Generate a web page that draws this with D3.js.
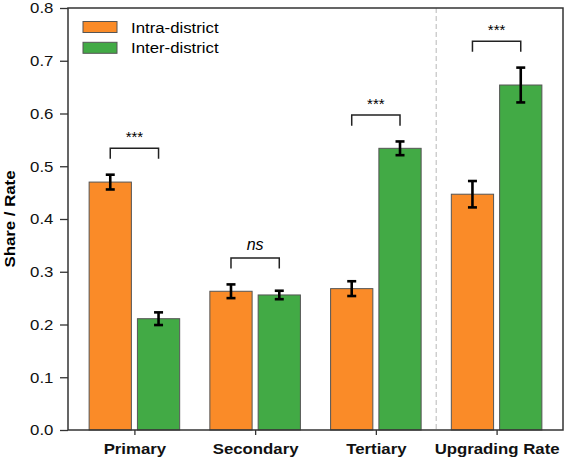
<!DOCTYPE html>
<html>
<head>
<meta charset="utf-8">
<script src="https://cdn.jsdelivr.net/npm/d3@7"></script>
<style>
  body { margin: 0; background: #fff; }
  text { font-family: "Liberation Sans", Arial, sans-serif; }
</style>
</head>
<body>
<div id="chart"></div>
<script>
// Chart data
const categories = ["Primary", "Secondary", "Tertiary", "Upgrading Rate"];
const seriesNames = ["Intra-district", "Inter-district"];
const intraValues = [0.470, 0.263, 0.268, 0.447];
const intraErrors = [0.014, 0.013, 0.014, 0.025];
const interValues = [0.211, 0.256, 0.534, 0.654];
const interErrors = [0.012, 0.008, 0.013, 0.033];
const significance = ["***", "ns", "***", "***"];
const yTicks = [0.0, 0.1, 0.2, 0.3, 0.4, 0.5, 0.6, 0.7, 0.8];

const colors = ["#fa8b28", "#42aa45"];

const W = 567, H = 460;
const plot = { left: 68, right: 563, top: 8, bottom: 430 };
const stretch = 1.12; // text in the original is slightly wide

const svg = d3.select("#chart").append("svg")
    .attr("width", W)
    .attr("height", H);

const x = d3.scaleLinear().domain([-0.55, 3.55]).range([plot.left, plot.right]);
const y = d3.scaleLinear().domain([0, 0.8]).range([plot.bottom, plot.top]);

const barW = x(0.35) - x(0);
const offset = 0.2;

// dashed separator before the rate group
svg.append("line")
    .attr("x1", x(2.5)).attr("x2", x(2.5))
    .attr("y1", plot.top).attr("y2", plot.bottom)
    .attr("stroke", "#c8c8c8")
    .attr("stroke-width", 1.3)
    .attr("stroke-dasharray", "5,3");

// bars + error bars
const series = [
    { name: seriesNames[0], values: intraValues, errors: intraErrors, color: colors[0], dx: -offset },
    { name: seriesNames[1], values: interValues, errors: interErrors, color: colors[1], dx: offset }
];

series.forEach(s => {
    const g = svg.append("g");
    g.selectAll("rect")
        .data(s.values)
        .enter()
        .append("rect")
        .attr("x", (d, i) => x(i + s.dx) - barW / 2)
        .attr("y", d => y(d))
        .attr("width", barW)
        .attr("height", d => y(0) - y(d))
        .attr("fill", s.color)
        .attr("stroke", "#555")
        .attr("stroke-width", 1);

    const eb = g.selectAll(".err")
        .data(s.values)
        .enter()
        .append("g");
    eb.append("line")
        .attr("x1", (d, i) => x(i + s.dx)).attr("x2", (d, i) => x(i + s.dx))
        .attr("y1", (d, i) => y(d - s.errors[i]))
        .attr("y2", (d, i) => y(d + s.errors[i]))
        .attr("stroke", "#000").attr("stroke-width", 2.6);
    [-1, 1].forEach(sign => {
        eb.append("line")
            .attr("x1", (d, i) => x(i + s.dx) - 4.5).attr("x2", (d, i) => x(i + s.dx) + 4.5)
            .attr("y1", (d, i) => y(d + sign * s.errors[i]))
            .attr("y2", (d, i) => y(d + sign * s.errors[i]))
            .attr("stroke", "#000").attr("stroke-width", 2.6);
    });
});

// significance brackets
categories.forEach((c, i) => {
    const top = Math.max(intraValues[i] + intraErrors[i], interValues[i] + interErrors[i]);
    const yb = y(top + 0.05), yl = y(top + 0.03);
    const x1 = x(i - offset), x2 = x(i + offset);
    svg.append("path")
        .attr("d", `M${x1},${yl}V${yb}H${x2}V${yl}`)
        .attr("fill", "none")
        .attr("stroke", "#222")
        .attr("stroke-width", 1.5);
    const isNs = significance[i] === "ns";
    svg.append("text")
        .attr("x", (x1 + x2) / 2)
        .attr("y", yb - (isNs ? 8 : 6))
        .attr("text-anchor", "middle")
        .style("font-size", isNs ? "16px" : "15px")
        .style("font-style", isNs ? "italic" : "normal")
        .text(significance[i]);
});

// frame
svg.append("rect")
    .attr("x", plot.left).attr("y", plot.top)
    .attr("width", plot.right - plot.left)
    .attr("height", plot.bottom - plot.top)
    .attr("fill", "none")
    .attr("stroke", "#333")
    .attr("stroke-width", 1.5);

// y axis
const yAxis = svg.append("g")
    .attr("transform", `translate(${plot.left},0)`)
    .call(d3.axisLeft(y).tickValues(yTicks).tickFormat(d3.format(".1f")).tickSize(8).tickPadding(5));
yAxis.select(".domain").remove();
yAxis.selectAll(".tick line").attr("stroke", "#333").attr("stroke-width", 1.3);
yAxis.selectAll(".tick text")
    .style("font-size", "15px")
    .style("font-family", "'Liberation Sans', Arial, sans-serif")
    .attr("fill", "#111")
    .attr("transform", `scale(${stretch},1)`);

// x axis
const xAxis = svg.append("g")
    .attr("transform", `translate(0,${plot.bottom})`)
    .call(d3.axisBottom(x).tickValues(d3.range(categories.length)).tickFormat(i => categories[i]).tickSize(5).tickPadding(8));
xAxis.select(".domain").remove();
xAxis.selectAll(".tick line").attr("stroke", "#333").attr("stroke-width", 1.3);
xAxis.selectAll(".tick text")
    .style("font-size", "15px")
    .style("font-weight", "bold")
    .style("font-family", "'Liberation Sans', Arial, sans-serif")
    .attr("fill", "#111")
    .attr("transform", `scale(${stretch},1)`);

// y label
svg.append("text")
    .attr("transform", `translate(15,${(plot.top + plot.bottom) / 2}) rotate(-90) scale(${stretch},1)`)
    .attr("text-anchor", "middle")
    .style("font-size", "15px")
    .style("font-weight", "bold")
    .text("Share / Rate");

// legend
const legend = svg.append("g").attr("transform", "translate(83,21.5)");
series.forEach((s, i) => {
    legend.append("rect")
        .attr("x", 0).attr("y", i * 20.8)
        .attr("width", 34).attr("height", 11)
        .attr("fill", s.color)
        .attr("stroke", "#555").attr("stroke-width", 1);
    legend.append("text")
        .attr("transform", `translate(48,${i * 20.8 + 11}) scale(${stretch},1)`)
        .style("font-size", "15px")
        .text(s.name);
});
</script>
</body>
</html>
